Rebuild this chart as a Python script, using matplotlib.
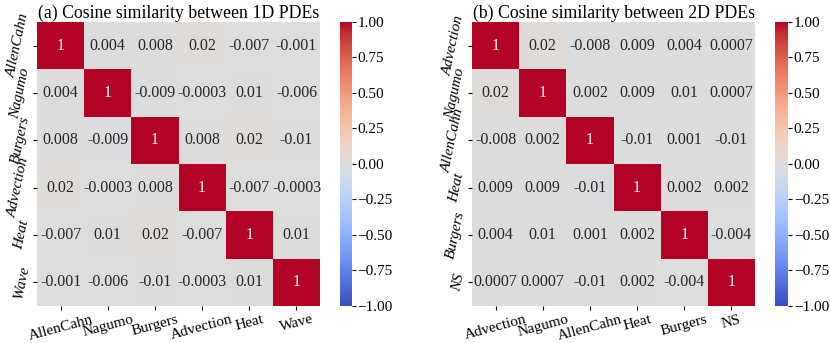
import numpy as np
import matplotlib
matplotlib.use('Agg')
from matplotlib import pyplot as plt
import seaborn as sns

plt.rcParams['font.family'] = ['Liberation Serif', 'DejaVu Serif']
plt.rcParams['axes.unicode_minus'] = True

# 1D PDE labels and similarity matrix
labels_1d = ['AllenCahn', 'Nagumo', 'Burgers', 'Advection', 'Heat', 'Wave']
sim_1d = [
    [1, 0.004, 0.008, 0.02, -0.007, -0.001],
    [0.004, 1, -0.009, -0.0003, 0.01, -0.006],
    [0.008, -0.009, 1, 0.008, 0.02, -0.01],
    [0.02, -0.0003, 0.008, 1, -0.007, -0.0003],
    [-0.007, 0.01, 0.02, -0.007, 1, 0.01],
    [-0.001, -0.006, -0.01, -0.0003, 0.01, 1],
]

# 2D PDE labels and similarity matrix
labels_2d = ['Advection', 'Nagumo', 'AllenCahn', 'Heat', 'Burgers', 'NS']
sim_2d = [
    [1, 0.02, -0.008, 0.009, 0.004, 0.0007],
    [0.02, 1, 0.002, 0.009, 0.01, 0.0007],
    [-0.008, 0.002, 1, -0.01, 0.001, -0.01],
    [0.009, 0.009, -0.01, 1, 0.002, 0.002],
    [0.004, 0.01, 0.001, 0.002, 1, -0.004],
    [0.0007, 0.0007, -0.01, 0.002, -0.004, 1],
]

titles = ['(a) Cosine similarity between 1D PDEs',
          '(b) Cosine similarity between 2D PDEs']
cbar_ticks = [-1, -0.75, -0.5, -0.25, 0, 0.25, 0.5, 0.75, 1]

fig = plt.figure(figsize=(8.3, 3.43), dpi=100)

# axes boxes in figure fraction: heatmap, colorbar
boxes = [
    ([0.0446, 0.108, 0.341, 0.828], [0.4096, 0.108, 0.0145, 0.828]),
    ([0.5687, 0.108, 0.341, 0.828], [0.934, 0.108, 0.0157, 0.828]),
]

for (hbox, cbox), mat, labels, title in zip(boxes, [sim_1d, sim_2d],
                                            [labels_1d, labels_2d], titles):
    ax = fig.add_axes(hbox)
    cax = fig.add_axes(cbox)
    sns.heatmap(np.array(mat), ax=ax, cbar_ax=cax, cmap='coolwarm',
                vmin=-1, vmax=1, annot=True, fmt='g',
                annot_kws={'fontsize': 11.5},
                xticklabels=labels, yticklabels=labels)
    ax.set_title(title, fontsize=12.8, pad=1)
    ax.set_xticklabels(labels, rotation=15, fontsize=11)
    ax.set_yticklabels(labels, rotation=78, fontsize=11,
                       style='italic', va='center')
    ax.tick_params(axis='x', length=3, pad=2)
    ax.tick_params(axis='y', length=3, pad=1)
    cax.tick_params(labelsize=11, length=3, pad=1)
    cax.set_yticks(cbar_ticks)
    cax.set_yticklabels([('%.2f' % t).replace('-', '\u2212') for t in cbar_ticks])

fig.savefig('out.png', dpi=100)
